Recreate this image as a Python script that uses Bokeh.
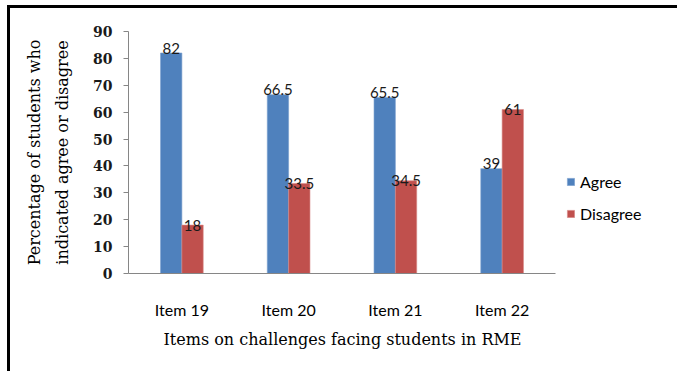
from bokeh.plotting import figure
from bokeh.models import (ColumnDataSource, FixedTicker, Legend, LegendItem,
                          Range1d, Title)
from bokeh.core.properties import value
from bokeh.embed import file_html
from bokeh.resources import INLINE

# Survey results per item (percent of students)
items = ["Item 19", "Item 20", "Item 21", "Item 22"]
agree = [82, 66.5, 65.5, 39]
disagree = [18, 33.5, 34.5, 61]
y_ticks = [0, 10, 20, 30, 40, 50, 60, 70, 80, 90]

AGREE_COLOR = "#4F81BD"
DISAGREE_COLOR = "#C0504D"
AXIS_COLOR = "#868686"

n = len(items)
centers = [i + 0.5 for i in range(n)]
bar_w = 0.2

src = ColumnDataSource(dict(
    center=centers,
    x_agree=[c - bar_w / 2 for c in centers],
    x_dis=[c + bar_w / 2 for c in centers],
    agree=agree,
    disagree=disagree,
    agree_txt=[f"{v:g}" for v in agree],
    disagree_txt=[f"{v:g}" for v in disagree],
))

# canvas / frame geometry (pixels)
canvas_w, canvas_h = 670, 366
left_px, top_px, bottom_px = 118, 23, 101
frame_w = canvas_w - left_px
plot_w = 427                      # width taken by the category slots
x_end = n * frame_w / plot_w      # extra room on the right for the legend

p = figure(
    x_range=Range1d(0, x_end),
    y_range=Range1d(0, 90),
    width=canvas_w, height=canvas_h,
    min_border_left=left_px, min_border_right=0,
    min_border_top=top_px, min_border_bottom=bottom_px,
    output_backend="svg",
    toolbar_location=None,
    background_fill_color="white",
    border_fill_color="white",
)
# frame of the whole panel: thick rule along the top and the left side
p.styles = {
    "margin-left": "7px",
    "margin-top": "5px",
    "border-top": "3px solid black",
    "border-left": "3px solid black",
}
p.outline_line_color = None
p.xgrid.grid_line_color = None
p.ygrid.grid_line_color = None

r_agree = p.vbar(x="x_agree", top="agree", width=bar_w, source=src,
                 fill_color=AGREE_COLOR, line_color="#7BA0CF", line_width=0.6)
r_dis = p.vbar(x="x_dis", top="disagree", width=bar_w, source=src,
               fill_color=DISAGREE_COLOR, line_color="#D98A88", line_width=0.6)

# value labels sitting on the bar tops
label_font = value("Lato")
p.text(x="x_agree", y="agree", text="agree_txt", source=src,
       text_font=label_font, text_font_size="15px",
       text_align="center", text_baseline="middle", y_offset=-5,
       text_color="#1a1a1a")
p.text(x="x_dis", y="disagree", text="disagree_txt", source=src,
       text_font=label_font, text_font_size="15px",
       text_align="center", text_baseline="middle", y_offset=0,
       text_color="#1a1a1a")

# y axis
yax = p.yaxis[0]
yax.ticker = FixedTicker(ticks=y_ticks)
yax.minor_tick_line_color = None
yax.major_tick_out = 5
yax.major_tick_in = 0
yax.major_tick_line_color = AXIS_COLOR
yax.axis_line_color = AXIS_COLOR
yax.major_label_standoff = 11
yax.major_label_text_font = "DejaVu Serif"
yax.major_label_text_font_style = "bold"
yax.major_label_text_font_size = "14px"
yax.major_label_text_color = "#1a1a1a"
yax.axis_label = "Percentage of students who\nindicated agree or disagree"
yax.axis_label_text_font = "DejaVu Serif"
yax.axis_label_text_font_style = "normal"
yax.axis_label_text_font_size = "16px"
yax.axis_label_text_line_height = 1.5
yax.axis_label_text_color = "black"
yax.axis_label_standoff = 18

# x axis: one slot per item, axis line only under the items
xax = p.xaxis[0]
xax.ticker = FixedTicker(ticks=centers)
xax.major_label_overrides = {c: name for c, name in zip(centers, items)}
xax.bounds = (0, n)
xax.major_tick_line_color = None
xax.minor_tick_line_color = None
xax.axis_line_color = AXIS_COLOR
xax.major_label_standoff = 20
xax.major_label_text_font = "Lato"
xax.major_label_text_font_size = "16px"
xax.major_label_text_color = "black"

x_title = Title(
    text="Items on challenges facing students in RME",
    align="left", offset=35, standoff=12,
    text_font="DejaVu Serif", text_font_style="normal",
    text_font_size="16px", text_color="black",
)
p.add_layout(x_title, "below")

legend = Legend(
    items=[LegendItem(label="Agree", renderers=[r_agree]),
           LegendItem(label="Disagree", renderers=[r_dis])],
    location=(438, 50),
    orientation="vertical",
    glyph_width=9, glyph_height=9,
    label_standoff=5,
    label_height=20,
    spacing=12,
    padding=0, margin=0,
    border_line_color=None,
    background_fill_alpha=0,
    label_text_font="Lato",
    label_text_font_size="16px",
    label_text_color="black",
)
p.add_layout(legend)

open("out.html", "w").write(file_html(p, INLINE))
